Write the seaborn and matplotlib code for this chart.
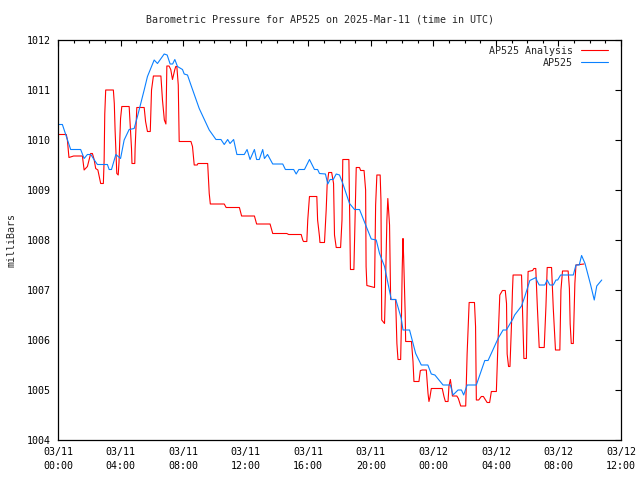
import pandas as pd
import numpy as np
import matplotlib
matplotlib.use('Agg')
import matplotlib.pyplot as plt
import matplotlib.dates as mdates
import seaborn as sns

# Data (hours after 2025-03-11 00:00 UTC, millibars)
station_hours = [0.0, 0.28, 0.81, 1.45, 1.67, 1.88, 2.1, 2.3, 2.52, 3.16, 3.27, 3.42, 3.7, 4.0,
                 4.23, 4.55, 4.87, 5.08, 5.51, 5.72, 6.15, 6.36, 6.79, 6.98, 7.17, 7.33, 7.47,
                 7.64, 7.96, 8.07, 8.28, 8.5, 9.03, 9.67, 10.1, 10.42, 10.63, 10.85, 11.0, 11.23,
                 11.44, 11.91, 12.09, 12.28, 12.56, 12.7, 12.87, 13.09, 13.2, 13.4, 13.73, 14.37,
                 14.54, 15.07, 15.23, 15.4, 15.76, 16.08, 16.4, 16.6, 16.72, 17.1, 17.25, 17.4,
                 17.6, 17.79, 18.0, 18.21, 18.64, 18.96, 19.28, 19.71, 20.03, 20.35, 20.56, 20.88,
                 21.31, 21.6, 21.95, 22.06, 22.48, 22.87, 23.23, 23.65, 23.87, 24.1, 24.62, 25.09,
                 25.26, 25.58, 25.8, 25.94, 26.16, 26.75, 27.29, 27.5, 28.14, 28.46, 28.67, 29.1,
                 29.2, 29.64, 29.85, 30.17, 30.56, 30.62, 30.77, 31.13, 31.28, 31.45, 31.67, 31.84,
                 31.95, 32.14, 32.95, 33.12, 33.33, 33.48, 33.7, 34.06, 34.29, 34.45, 34.77]
station_mb = [1010.31, 1010.31, 1009.81, 1009.81, 1009.63, 1009.71, 1009.71, 1009.61, 1009.51,
              1009.51, 1009.41, 1009.41, 1009.71, 1009.63, 1010.0, 1010.21, 1010.23, 1010.47,
              1011.0, 1011.27, 1011.6, 1011.53, 1011.72, 1011.7, 1011.52, 1011.52, 1011.61,
              1011.47, 1011.41, 1011.32, 1011.3, 1011.1, 1010.63, 1010.2, 1010.01, 1010.01,
              1009.91, 1010.01, 1009.93, 1010.01, 1009.71, 1009.71, 1009.81, 1009.61, 1009.81,
              1009.61, 1009.61, 1009.81, 1009.63, 1009.71, 1009.52, 1009.52, 1009.41, 1009.41,
              1009.32, 1009.41, 1009.41, 1009.61, 1009.41, 1009.41, 1009.33, 1009.32, 1009.12,
              1009.21, 1009.21, 1009.32, 1009.3, 1009.13, 1008.73, 1008.61, 1008.61, 1008.27,
              1008.02, 1008.0, 1007.73, 1007.47, 1006.81, 1006.81, 1006.43, 1006.2, 1006.2,
              1005.73, 1005.5, 1005.5, 1005.32, 1005.3, 1005.1, 1005.1, 1004.9, 1005.0, 1005.0,
              1004.9, 1005.1, 1005.1, 1005.59, 1005.59, 1006.03, 1006.2, 1006.2, 1006.43, 1006.5,
              1006.68, 1006.87, 1007.19, 1007.25, 1007.19, 1007.1, 1007.1, 1007.2, 1007.1, 1007.1,
              1007.2, 1007.2, 1007.3, 1007.3, 1007.5, 1007.5, 1007.69, 1007.53, 1007.1, 1006.8,
              1007.08, 1007.2]

analysis_hours = [0.0, 0.53, 0.6, 0.7, 1.0, 1.56, 1.67, 1.88, 2.09, 2.2, 2.31, 2.41, 2.55, 2.73,
                  2.9, 2.95, 2.99, 3.05, 3.54, 3.6, 3.65, 3.76, 3.85, 3.9, 4.0, 4.08, 4.55, 4.6,
                  4.7, 4.73, 4.91, 4.93, 5.04, 5.51, 5.6, 5.72, 5.9, 5.98, 6.1, 6.58, 6.68, 6.8,
                  6.9, 6.96, 7.1, 7.21, 7.32, 7.47, 7.53, 7.6, 7.69, 7.75, 8.5, 8.6, 8.71, 8.9,
                  8.95, 9.57, 9.67, 9.74, 10.63, 10.75, 11.6, 11.74, 12.56, 12.7, 13.56, 13.73,
                  14.63, 14.75, 15.55, 15.65, 15.7, 15.91, 15.97, 16.08, 16.55, 16.6, 16.72, 16.75,
                  17.04, 17.15, 17.21, 17.31, 17.5, 17.62, 17.68, 17.79, 18.07, 18.16, 18.21, 18.6,
                  18.64, 18.7, 18.92, 19.03, 19.07, 19.28, 19.35, 19.57, 19.67, 19.7, 19.75, 20.24,
                  20.31, 20.39, 20.6, 20.65, 20.7, 20.88, 20.93, 21.03, 21.09, 21.2, 21.25, 21.27,
                  21.59, 21.67, 21.74, 21.91, 21.95, 22.01, 22.06, 22.1, 22.2, 22.23, 22.6, 22.7,
                  22.76, 23.08, 23.17, 23.3, 23.55, 23.66, 23.72, 23.78, 23.87, 23.95, 24.57, 24.68,
                  24.77, 24.94, 25.0, 25.09, 25.17, 25.22, 25.5, 25.6, 25.75, 26.07, 26.16, 26.29,
                  26.63, 26.7, 26.75, 26.9, 27.07, 27.2, 27.44, 27.6, 27.71, 28.03, 28.14, 28.25,
                  28.42, 28.6, 28.68, 28.72, 28.81, 28.9, 29.0, 29.06, 29.1, 29.64, 29.75, 29.79,
                  29.95, 30.0, 30.06, 30.35, 30.43, 30.55, 30.65, 30.77, 31.09, 31.2, 31.28, 31.56,
                  31.67, 31.81, 32.09, 32.16, 32.26, 32.62, 32.7, 32.75, 32.82, 32.95, 33.05, 33.12,
                  33.63]
analysis_mb = [1010.11, 1010.11, 1010.0, 1009.65, 1009.68, 1009.68, 1009.4, 1009.47, 1009.73,
               1009.73, 1009.61, 1009.43, 1009.4, 1009.13, 1009.13, 1009.6, 1010.52, 1011.0,
               1011.0, 1010.73, 1010.2, 1009.33, 1009.3, 1009.55, 1010.43, 1010.67, 1010.67,
               1010.4, 1009.83, 1009.53, 1009.53, 1009.83, 1010.65, 1010.65, 1010.37, 1010.17,
               1010.17, 1011.0, 1011.28, 1011.28, 1010.8, 1010.4, 1010.32, 1011.48, 1011.48,
               1011.41, 1011.21, 1011.41, 1011.47, 1011.47, 1011.1, 1009.97, 1009.97, 1009.87,
               1009.5, 1009.5, 1009.53, 1009.53, 1008.93, 1008.72, 1008.72, 1008.65, 1008.65,
               1008.48, 1008.48, 1008.32, 1008.32, 1008.13, 1008.13, 1008.11, 1008.11, 1008.0,
               1007.97, 1007.97, 1008.4, 1008.87, 1008.87, 1008.4, 1008.07, 1007.95, 1007.95,
               1008.61, 1009.1, 1009.35, 1009.35, 1009.13, 1008.1, 1007.85, 1007.85, 1008.4,
               1009.61, 1009.61, 1008.73, 1007.41, 1007.41, 1008.97, 1009.45, 1009.45, 1009.39,
               1009.39, 1009.0, 1007.47, 1007.09, 1007.05, 1008.7, 1009.3, 1009.3, 1008.8, 1006.4,
               1006.33, 1006.93, 1008.4, 1008.83, 1008.3, 1007.33, 1006.81, 1006.81, 1005.93,
               1005.61, 1005.61, 1006.2, 1007.43, 1008.03, 1007.67, 1006.53, 1005.97, 1005.97,
               1005.57, 1005.17, 1005.17, 1005.39, 1005.4, 1005.4, 1004.93, 1004.77, 1004.85,
               1005.03, 1005.03, 1005.03, 1004.87, 1004.77, 1004.77, 1005.08, 1005.21, 1005.03,
               1004.88, 1004.88, 1004.83, 1004.68, 1004.68, 1005.72, 1006.75, 1006.75, 1006.27,
               1004.8, 1004.8, 1004.87, 1004.87, 1004.75, 1004.75, 1004.97, 1004.97, 1006.0,
               1006.9, 1006.99, 1006.99, 1006.73, 1005.72, 1005.47, 1005.47, 1006.33, 1006.99,
               1007.3, 1007.3, 1006.07, 1005.63, 1005.63, 1006.6, 1007.37, 1007.39, 1007.43,
               1007.43, 1006.67, 1005.85, 1005.85, 1006.67, 1007.45, 1007.45, 1006.63, 1005.8,
               1005.8, 1007.0, 1007.38, 1007.38, 1007.03, 1006.32, 1005.93, 1005.93, 1007.13,
               1007.5, 1007.52]

series_names = ['AP525 Analysis', 'AP525']
series_colors = ['#ff0000', '#0a80ff']

start = pd.Timestamp('2025-03-11 00:00')
df = pd.concat([
    pd.DataFrame({'time': start + pd.to_timedelta(analysis_hours, unit='h'),
                  'mb': analysis_mb, 'series': series_names[0]}),
    pd.DataFrame({'time': start + pd.to_timedelta(station_hours, unit='h'),
                  'mb': station_mb, 'series': series_names[1]}),
])

sns.set_style('white')
plt.rcParams['font.family'] = ['DejaVu Sans Mono']
plt.rcParams['font.size'] = 7.2

fig = plt.figure(figsize=(6.4, 4.8), dpi=100)
ax = fig.add_axes([58 / 640, 1 - 440 / 480, 563 / 640, 400 / 480])

sns.lineplot(data=df, x='time', y='mb', hue='series', hue_order=series_names,
             palette=series_colors, estimator=None, sort=False, linewidth=0.8, ax=ax)

ax.set_xlim(start, start + pd.Timedelta(hours=36))
ax.set_ylim(1004, 1012)
ax.set_yticks(range(1004, 1013))
ax.xaxis.set_major_locator(mdates.HourLocator(byhour=range(0, 24, 4)))
ax.xaxis.set_minor_locator(mdates.HourLocator())
ax.xaxis.set_major_formatter(mdates.DateFormatter('%m/%d\n%H:%M'))

for s in ax.spines.values():
    s.set_visible(True)
    s.set_color('black')
    s.set_linewidth(0.9)

ax.tick_params(axis='both', which='both', direction='in', top=True, right=True,
               colors='black', labelsize=7.2)
ax.tick_params(axis='both', which='major', length=4, width=0.8)
ax.tick_params(axis='x', which='minor', length=2.2, width=0.8)
ax.tick_params(axis='x', which='major', pad=5)
ax.tick_params(axis='y', which='major', pad=5)
for lbl in ax.get_xticklabels():
    lbl.set_linespacing(1.5)

ax.set_xlabel('')
ax.set_ylabel('')
fig.text(12 / 640, 1 - 240 / 480, 'milliBars', rotation=90, ha='center', va='center', fontsize=7.2)
fig.text(0.5, 1 - 20 / 480, 'Barometric Pressure for AP525 on 2025-Mar-11 (time in UTC)',
         ha='center', va='center', fontsize=7.2)

ax.legend(loc='upper right', bbox_to_anchor=(0.977, 0.985), frameon=False, markerfirst=False,
          handlelength=2.7, handletextpad=0.8, labelspacing=0.2, borderaxespad=0,
          borderpad=0, fontsize=7.2)

fig.savefig('out.png', dpi=100, facecolor='white')
